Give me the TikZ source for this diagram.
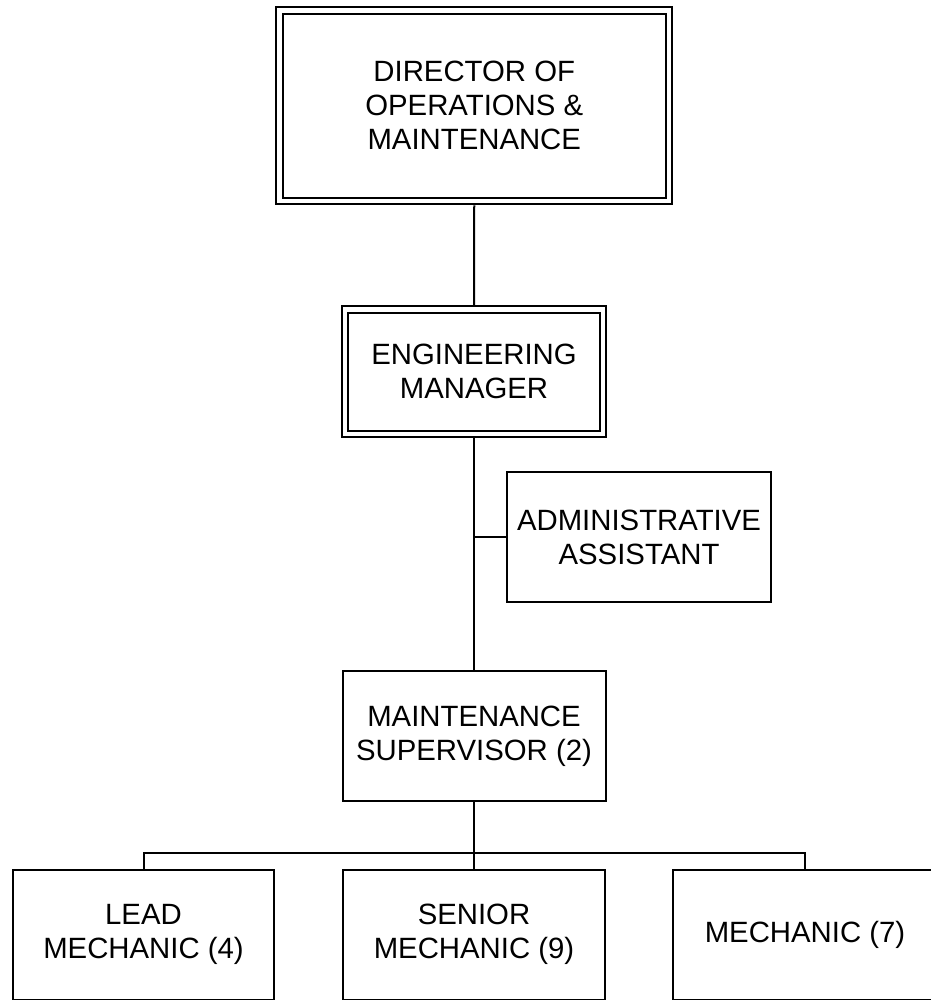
\documentclass[tikz,border=0pt]{standalone}
\usepackage{fontspec}
\setmainfont{Liberation Sans}
\usepackage{tikz}

\begin{document}
\begin{tikzpicture}[x=0.75pt,y=0.75pt,yscale=-1.0,xscale=1.0,
  box/.style={draw,line width=1.5pt,outer sep=0pt,inner sep=2pt,align=center,
    font=\fontsize{22}{25.5}\selectfont,minimum height=97.5pt},
  dbox/.style={box,double,double distance=3.4pt,outer sep=3.2pt}]
\clip (0,0) rectangle (931,1000);
% boxes
\node [dbox,minimum width=292.1pt,minimum height=142.9pt] (dir) at (474.25,105.75) {DIRECTOR OF\\OPERATIONS \&\\MAINTENANCE};
\node [dbox,minimum width=193.5pt,minimum height=93.4pt] (eng) at (474,371.75) {ENGINEERING\\MANAGER};
\node [box,minimum width=198pt] (admin) at (639,537) {ADMINISTRATIVE\\ASSISTANT};
\node [box,minimum width=197.25pt] (sup) at (474,736) {MAINTENANCE\\SUPERVISOR (2)};
\node [box,minimum width=196pt] (lead) at (143.5,934.5) {LEAD\\MECHANIC (4)};
\node [box,minimum width=196pt] (senior) at (474,934.5) {SENIOR\\MECHANIC (9)};
\node [box,minimum width=198pt] (mech) at (805,934.5) {MECHANIC (7)};
\coordinate (bar) at (474,852.5);
% lines
\draw [line width=1.5pt] (dir.south) -- (eng.north);
\draw [line width=1.5pt] (eng.south) -- (sup.north);
\draw [line width=1.5pt] (admin.west) -- (admin.west -| eng.south);
\draw [line width=1.5pt] (sup.south) -- (senior.north);
\draw [line width=1.5pt] (lead.north) |- (bar) -| (mech.north);
\end{tikzpicture}
\end{document}
